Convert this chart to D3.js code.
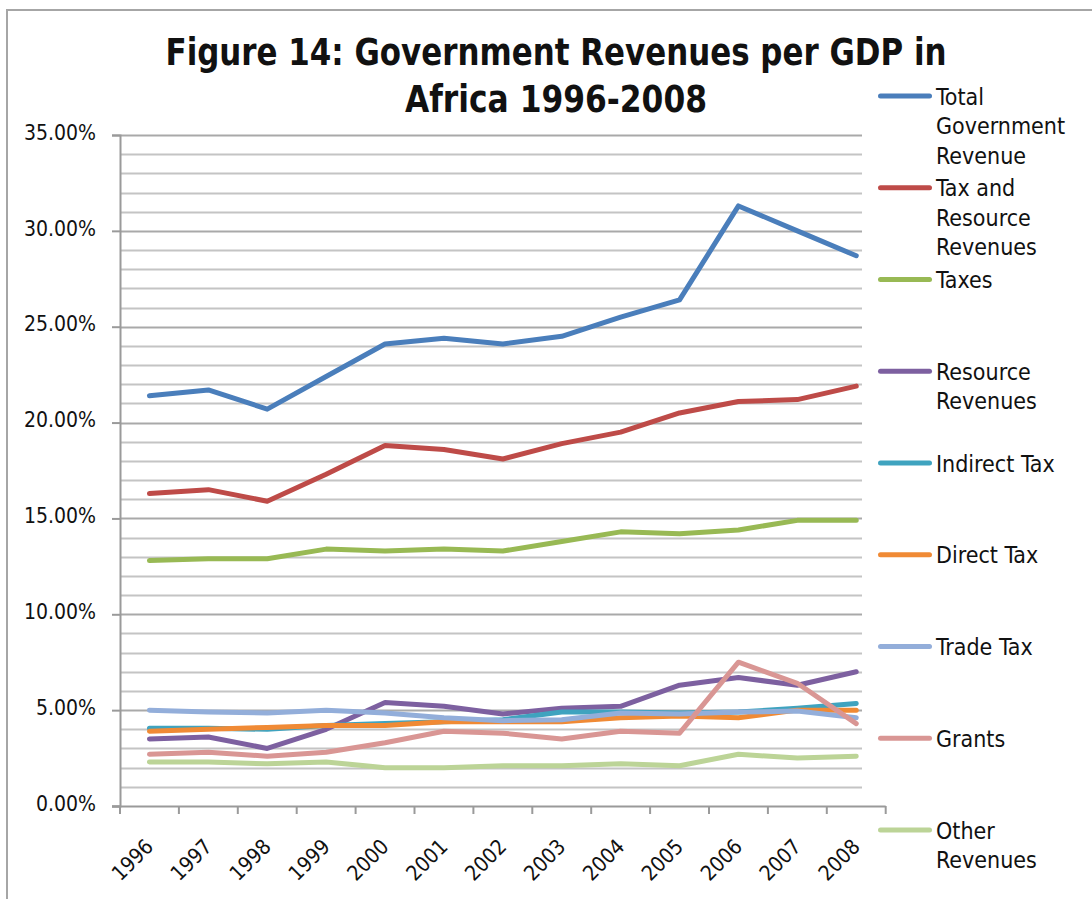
<!DOCTYPE html>
<html>
<head>
<meta charset="utf-8">
<script src="https://cdn.jsdelivr.net/npm/d3@7"></script>
<style>
  html, body { margin: 0; padding: 0; background: #fff; }
  svg { display: block; }
  text { font-family: "DejaVu Sans Condensed", "DejaVu Sans", sans-serif; fill: #111; }
</style>
</head>
<body>
<svg id="chart" width="1092" height="899"></svg>
<script>
// Government revenue components as a share of GDP (percent), Africa 1996-2008
const years = ["1996","1997","1998","1999","2000","2001","2002","2003","2004","2005","2006","2007","2008"];

const totalRevenue     = [21.4, 21.7, 20.7, 22.4, 24.1, 24.4, 24.1, 24.5, 25.5, 26.4, 31.3, 30.0, 28.7];
const taxResource      = [16.3, 16.5, 15.9, 17.3, 18.8, 18.6, 18.1, 18.9, 19.5, 20.5, 21.1, 21.2, 21.9];
const taxes            = [12.8, 12.9, 12.9, 13.4, 13.3, 13.4, 13.3, 13.8, 14.3, 14.2, 14.4, 14.9, 14.9];
const resourceRevenues = [3.5, 3.6, 3.0, 4.0, 5.4, 5.2, 4.8, 5.1, 5.2, 6.3, 6.7, 6.3, 7.0];
const indirectTax      = [4.05, 4.05, 4.0, 4.2, 4.3, 4.4, 4.5, 4.9, 4.9, 4.85, 4.9, 5.1, 5.35];
const directTax        = [3.9, 4.0, 4.1, 4.2, 4.2, 4.4, 4.4, 4.4, 4.6, 4.7, 4.6, 5.0, 5.0];
const tradeTax         = [5.0, 4.9, 4.85, 5.0, 4.85, 4.6, 4.45, 4.5, 4.85, 4.8, 4.9, 4.95, 4.6];
const grants           = [2.7, 2.8, 2.6, 2.8, 3.3, 3.9, 3.8, 3.5, 3.9, 3.8, 7.5, 6.4, 4.3];
const otherRevenues    = [2.3, 2.3, 2.2, 2.3, 2.0, 2.0, 2.1, 2.1, 2.2, 2.1, 2.7, 2.5, 2.6];

const seriesNames = [
  ["Total", "Government", "Revenue"],
  ["Tax and", "Resource", "Revenues"],
  ["Taxes"],
  ["Resource", "Revenues"],
  ["Indirect Tax"],
  ["Direct Tax"],
  ["Trade Tax"],
  ["Grants"],
  ["Other", "Revenues"]
];
const seriesValues = [totalRevenue, taxResource, taxes, resourceRevenues, indirectTax,
                      directTax, tradeTax, grants, otherRevenues];
const seriesColors = ["#4A7EBB", "#BE4B48", "#98B954", "#7D60A0", "#3FA3BF",
                      "#F08A35", "#93AEDA", "#D99694", "#BCD497"];

const yTicks = [0, 5, 10, 15, 20, 25, 30, 35];
const titleLines = ["Figure 14: Government Revenues per GDP in", "Africa 1996-2008"];

const svg = d3.select("#chart");

// chart frame
svg.append("path")
  .attr("d", "M7,905 L7,10 L1100,10")
  .attr("fill", "none").attr("stroke", "#a6a6a6").attr("stroke-width", 2);

// plot geometry
const plotLeft = 120, plotTop = 135, plotBottom = 806, gridRight = 862;
const step = 58.9;
const x = d3.scaleBand().domain(years).range([plotLeft, plotLeft + step * years.length]);
const y = d3.scaleLinear().domain([0, 35]).range([plotBottom, plotTop]);

// gridlines every 1%
const gridVals = d3.range(1, 36);
svg.append("g").selectAll("line").data(gridVals).join("line")
  .attr("x1", plotLeft).attr("x2", gridRight)
  .attr("y1", d => Math.round(y(d)) + 0.5).attr("y2", d => Math.round(y(d)) + 0.5)
  .attr("stroke", d => d % 5 === 0 ? "#a9a9a9" : "#c4c4c4")
  .attr("stroke-width", 2);

// y axis
const yAxis = svg.append("g").attr("transform", `translate(${plotLeft},0)`)
  .call(d3.axisLeft(y).tickValues(yTicks).tickSize(8).tickPadding(16)
    .tickFormat(d => d.toFixed(2) + "%"));
yAxis.select(".domain").attr("stroke", "#9a9a9a").attr("stroke-width", 2);
yAxis.selectAll(".tick line").attr("stroke", "#9a9a9a").attr("stroke-width", 2);
yAxis.selectAll(".tick text").attr("font-size", 21).attr("fill", "#111")
  .attr("dy", "0.2em")
  .style("font-family", '"DejaVu Sans Condensed", "DejaVu Sans", sans-serif');

// x axis with ticks at category boundaries
const xg = svg.append("g");
const xEnd = x.range()[1];
xg.append("line").attr("x1", plotLeft - 8).attr("x2", xEnd)
  .attr("y1", plotBottom + 0.5).attr("y2", plotBottom + 0.5)
  .attr("stroke", "#9a9a9a").attr("stroke-width", 2);
const boundaries = years.map(d => x(d)).concat([xEnd]);
xg.selectAll("line.tick").data(boundaries).join("line").attr("class", "tick")
  .attr("x1", d => d).attr("x2", d => d)
  .attr("y1", plotBottom).attr("y2", plotBottom + 8)
  .attr("stroke", "#9a9a9a").attr("stroke-width", 2);
xg.selectAll("text").data(years).join("text")
  .attr("transform", d => `translate(${x(d) + x.bandwidth() / 2 + 5},${plotBottom + 42}) rotate(-45)`)
  .attr("text-anchor", "end")
  .attr("font-size", 21)
  .text(d => d);

// series lines
const line = d3.line()
  .x((d, i) => x(years[i]) + x.bandwidth() / 2)
  .y(d => y(d));
svg.append("g").selectAll("path").data(seriesValues).join("path")
  .attr("d", d => line(d))
  .attr("fill", "none")
  .attr("stroke", (d, i) => seriesColors[i])
  .attr("stroke-width", 5)
  .attr("stroke-linejoin", "round")
  .attr("stroke-linecap", "round");

// legend
const legY0 = 96, legStep = 91.75, legLine = 29.5;
const leg = svg.append("g");
seriesNames.forEach((lines, i) => {
  const ly = legY0 + i * legStep;
  leg.append("rect").attr("x", 878).attr("y", ly - 2.5).attr("width", 54).attr("height", 5)
    .attr("rx", 2.5).attr("fill", seriesColors[i]);
  lines.forEach((t, j) => {
    leg.append("text").attr("x", 936).attr("y", ly + 8.5 + j * legLine)
      .attr("font-size", 23).text(t);
  });
});

// title, fitted to its line widths
const title = svg.append("g");
const titleWidths = [781, 302];
titleLines.forEach((t, i) => {
  title.append("text").attr("x", 556).attr("y", 65 + i * 47).attr("text-anchor", "middle")
    .attr("font-weight", "bold").attr("font-size", 37)
    .attr("textLength", titleWidths[i]).attr("lengthAdjust", "spacingAndGlyphs")
    .text(t);
});
</script>
</body>
</html>
